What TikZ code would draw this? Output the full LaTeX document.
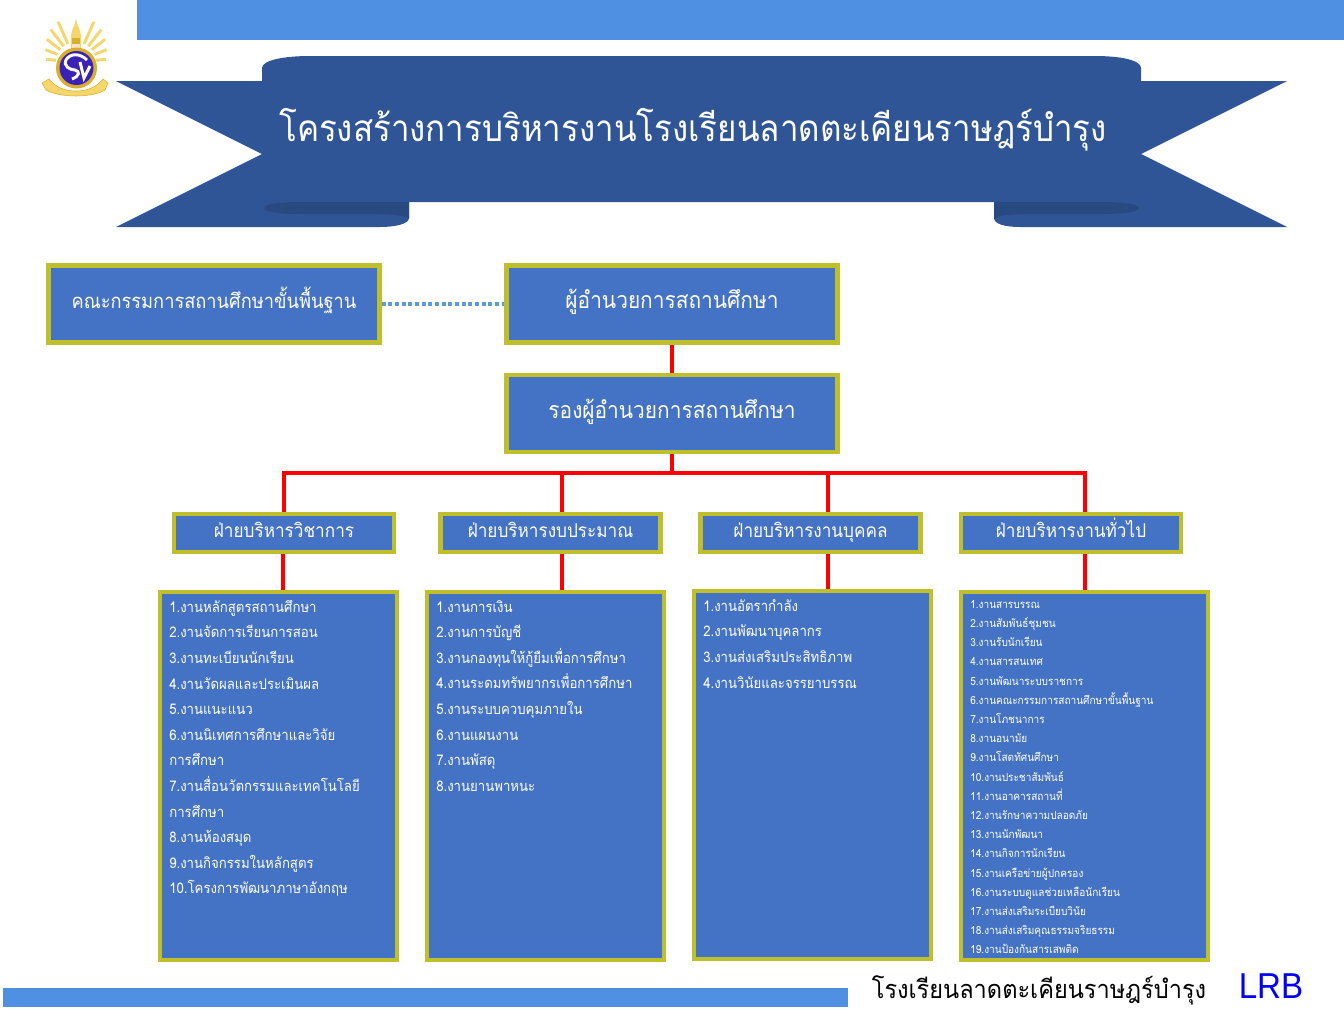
\documentclass[tikz,border=0pt]{standalone}
\usepackage{fontspec}
\setmainfont[Script=Thai,FakeStretch=0.9]{Loma}
\newfontfamily\footfont[Script=Thai,FakeStretch=0.93]{Loma}
\newfontfamily\latinfont[FakeStretch=0.92]{Liberation Sans}
\definecolor{barblue}{HTML}{4F90E3}
\definecolor{ribbon}{HTML}{2F5597}
\definecolor{ribbondark}{HTML}{294A80}
\definecolor{boxfill}{HTML}{4472C4}
\definecolor{boxline}{HTML}{BFBF2C}
\definecolor{dotblue}{HTML}{5B9BD5}
\definecolor{gold}{HTML}{F5D66B}
\definecolor{golddark}{HTML}{D9AE2E}
\definecolor{crest}{HTML}{3A22B8}
\newcommand{\pt}[2]{\fontsize{#1}{#2}\selectfont}
\tikzset{
 x=0.75pt,y=-0.75pt,
 orgbox/.style={draw=boxline,fill=boxfill,line width=3.3pt,text=white,inner sep=0pt,align=center,text height=.9em,text depth=.3em},
 bigbox/.style={orgbox,minimum width=248pt,minimum height=58pt,font=\pt{15.2}{18}},
 deptbox/.style={orgbox,minimum width=165pt,minimum height=28.5pt,font=\pt{14.3}{17}},
 listbox/.style={draw=boxline,fill=boxfill,line width=3.3pt,inner sep=0pt,minimum width=178pt,minimum height=276pt},
 listtext/.style={anchor=north west,text=white,align=left,inner sep=0pt,font=\pt{11}{19.2}},
 smalltext/.style={listtext,font=\pt{8.4}{14.4}},
 redline/.style={draw=red,line width=2.6pt},
 ray/.style={draw=gold,line width=2.2pt}
}
\begin{document}
\begin{tikzpicture}
\useasboundingbox (0,0) rectangle (1344,1008);
% bars
\fill[barblue] (137,0) rectangle (1344,40);
\fill[barblue] (3,988) rectangle (848,1007);
% ribbon
\fill[ribbon] (116,81) -- (262,81) -- (262,68) .. controls (262,60) and (285,56) .. (310,56)
 -- (1095,56) .. controls (1120,56) and (1141,60) .. (1141,68) -- (1141,81) -- (1287,81)
 -- (1141,154) -- (1287,227) -- (1020,227) .. controls (1005,227) and (994,224) .. (994,218)
 -- (994,202) -- (409,202) -- (409,218) .. controls (409,224) and (395,227) .. (380,227)
 -- (116,227) -- (262,154) -- cycle;
\fill[ribbondark] (264,208) .. controls (264,204) and (280,202) .. (300,202) -- (409,202) -- (409,219)
 .. controls (405,214) and (385,214) .. (340,214) -- (300,214) .. controls (280,214) and (264,212) .. (264,208) -- cycle;
\fill[ribbondark] (1139,208) .. controls (1139,204) and (1123,202) .. (1103,202) -- (994,202) -- (994,219)
 .. controls (998,214) and (1018,214) .. (1063,214) -- (1103,214) .. controls (1123,214) and (1139,212) .. (1139,208) -- cycle;
\node[text=white,font=\pt{27.6}{30}] (title) at (693,130) {โครงสร้างการบริหารงานโรงเรียนลาดตะเคียนราษฎร์บำรุง};
% logo
\foreach \a/\l in {5/10,22/13,38/17,52/21,66/24}{
  \draw[ray] (76,62) ++(-\a:20) -- ++(-\a:\l);
  \draw[ray] (76,62) ++(-180+\a:20) -- ++(-180+\a:\l);
}
\fill[gold] (71,54) -- (71,36) .. controls (71,30) and (75,26) .. (76,19) .. controls (77,26) and (81,30) .. (81,36) -- (81,54) -- cycle;
\fill[golddark] (72,38) rectangle (80,44);
\fill[white!70!golddark] (72,44) rectangle (80,52);
\fill[golddark] (76.5,68) circle (20.5);
\fill[crest] (76.5,68) circle (17);
\draw[white,line width=2.2pt] (87,60) .. controls (80,53) and (70,53) .. (66,60) .. controls (63,66) and (70,70) .. (75,70) .. controls (80,71) and (80,76) .. (72,79);
\draw[white,line width=2.2pt] (80,62) -- (84,78) -- (90,66);
\fill[gold,draw=golddark] (42,83) -- (49,79) .. controls (56,88) and (66,91) .. (76,91) .. controls (86,91) and (96,88) .. (103,79) -- (108,83) -- (105,90)
 .. controls (92,98) and (60,98) .. (46,90) -- cycle;
% top boxes
\node[bigbox] (board) at (214,304) {คณะกรรมการสถานศึกษาขั้นพื้นฐาน};
\node[bigbox,font=\pt{17.4}{20},text depth=.26em,text height=.94em] (director) at (672,304) {ผู้อำนวยการสถานศึกษา};
\node[bigbox,font=\pt{17.4}{20},text depth=.21em,text height=.99em] (deputy) at (672,413.5) {รองผู้อำนวยการสถานศึกษา};
% departments
\node[deptbox] (d1) at (284,533) {ฝ่ายบริหารวิชาการ};
\node[deptbox] (d2) at (550.5,533) {ฝ่ายบริหารงบประมาณ};
\node[deptbox] (d3) at (810.5,533) {ฝ่ายบริหารงานบุคคล};
\node[deptbox] (d4) at (1071,533) {ฝ่ายบริหารงานทั่วไป};
% lists
\node[listbox] (l1) at (278.5,776) {};
\node[listbox] (l2) at (545.5,776) {};
\node[listbox] (l3) at (812.5,775) {};
\node[listbox,minimum width=185pt] (l4) at (1084.5,776) {};
\node[listtext] (t1) at (169,600) {1.งานหลักสูตรสถานศึกษา\\2.งานจัดการเรียนการสอน\\3.งานทะเบียนนักเรียน\\4.งานวัดผลและประเมินผล\\5.งานแนะแนว\\6.งานนิเทศการศึกษาและวิจัย\\การศึกษา\\7.งานสื่อนวัตกรรมและเทคโนโลยี\\การศึกษา\\8.งานห้องสมุด\\9.งานกิจกรรมในหลักสูตร\\10.โครงการพัฒนาภาษาอังกฤษ};
\node[listtext] (t2) at (436,600) {1.งานการเงิน\\2.งานการบัญชี\\3.งานกองทุนให้กู้ยืมเพื่อการศึกษา\\4.งานระดมทรัพยากรเพื่อการศึกษา\\5.งานระบบควบคุมภายใน\\6.งานแผนงาน\\7.งานพัสดุ\\8.งานยานพาหนะ};
\node[listtext] (t3) at (703,599) {1.งานอัตรากำลัง\\2.งานพัฒนาบุคลากร\\3.งานส่งเสริมประสิทธิภาพ\\4.งานวินัยและจรรยาบรรณ};
\node[smalltext] (t4) at (970,600) {1.งานสารบรรณ\\2.งานสัมพันธ์ชุมชน\\3.งานรับนักเรียน\\4.งานสารสนเทศ\\5.งานพัฒนาระบบราชการ\\6.งานคณะกรรมการสถานศึกษาขั้นพื้นฐาน\\7.งานโภชนาการ\\8.งานอนามัย\\9.งานโสตทัศนศึกษา\\10.งานประชาสัมพันธ์\\11.งานอาคารสถานที่\\12.งานรักษาความปลอดภัย\\13.งานนักพัฒนา\\14.งานกิจการนักเรียน\\15.งานเครือข่ายผู้ปกครอง\\16.งานระบบดูแลช่วยเหลือนักเรียน\\17.งานส่งเสริมระเบียบวินัย\\18.งานส่งเสริมคุณธรรมจริยธรรม\\19.งานป้องกันสารเสพติด};
% connectors
\draw[dotblue,line width=3pt,dotted] (board.east) -- (director.west);
\draw[redline] (director.south) -- (deputy.north);
\coordinate (bus) at (672,473);
\draw[redline] (deputy.south) -- (bus);
\coordinate (b1) at (284,473);
\coordinate (b2) at (562,473);
\coordinate (b3) at (828,473);
\coordinate (b4) at (1085,473);
\draw[redline] (d1.north -| b1) -- (b1) -- (b4) -- (d4.north -| b4);
\draw[redline] (b2) -- (d2.north -| b2);
\draw[redline] (b3) -- (d3.north -| b3);
\draw[redline] (d1.south -| l1.north -| 283,0) -- (l1.north -| 283,0);
\draw[redline] (d2.south -| b2) -- (l2.north -| b2);
\draw[redline] (d3.south -| b3) -- (l3.north -| b3);
\draw[redline] (d4.south -| b4) -- (l4.north -| b4);
% footer
\node[text=black,font=\footfont\pt{19}{22}] (foot) at (1039,990) {โรงเรียนลาดตะเคียนราษฎร์บำรุง};
\node[text=blue,font=\latinfont\pt{27}{30}] (lrb) at (1271,986) {LRB};
\end{tikzpicture}
\end{document}
